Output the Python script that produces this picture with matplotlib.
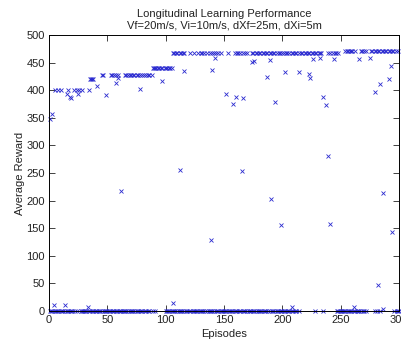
import numpy as np
import matplotlib
matplotlib.use("Agg")
import matplotlib.pyplot as plt

# --- DATA ---
# episodes whose run ended with zero reward
zero_ep = [1, 2, 3, 5, 6, 7, 8, 10, 11, 12, 14, 15, 16, 18, 19, 20, 22, 24,
           27, 28, 29, 30, 31, 32, 34, 35, 37, 38, 39, 40, 41, 43, 44, 45, 47,
           48, 49, 50, 51, 52, 54, 55, 56, 57, 58, 60, 61, 62, 63, 64, 65, 66,
           68, 69, 70, 71, 72, 74, 75, 76, 78, 79, 80, 82, 83, 85, 86, 89, 91,
           100, 101, 102, 103, 105, 106, 107, 108, 110, 111, 112, 113, 114,
           116, 117, 118, 120, 121, 123, 124, 125, 126, 127, 129, 130, 131,
           132, 134, 135, 137, 138, 139, 140, 141, 143, 144, 145, 147, 148,
           149, 150, 151, 152, 154, 155, 156, 157, 159, 160, 161, 163, 164,
           166, 167, 168, 170, 171, 172, 173, 175, 176, 177, 179, 180, 181,
           182, 184, 185, 186, 188, 189, 191, 192, 194, 195, 196, 198, 199,
           200, 201, 202, 204, 205, 206, 208, 209, 211, 212, 214, 228, 235,
           247, 248, 249, 250, 251, 252, 253, 254, 256, 257, 258, 259, 261,
           262, 264, 265, 266, 267, 269, 270, 272, 279, 281, 284, 296, 298,
           299, 300]

# learned-policy plateaus: one reward level per group of episodes
plateau_levels = [400, 421, 427, 440, 467, 471]
plateau_eps = [
    [5, 8, 10, 16, 21, 24, 26, 28, 34],
    [35, 36, 37, 38],
    [45, 46, 53, 54, 56, 57, 59, 65, 66, 68, 69, 70, 72, 73, 75, 76, 78, 80,
     81, 83, 85, 86, 88],
    [89, 90, 91, 92, 93, 94, 96, 97, 99, 100, 101, 103, 104, 105],
    [106, 107, 109, 110, 112, 113, 115, 116, 121, 124, 128, 130, 131, 133,
     135, 138, 140, 141, 143, 145, 147, 153, 159, 161, 162, 164, 166, 168,
     170, 174, 175, 177, 178, 180, 181, 183, 184, 186, 187, 189, 190, 192,
     193, 195, 197, 198, 200, 201, 203, 204, 206, 208, 209, 211, 212, 214,
     216, 217, 219, 220, 222, 223, 225, 226, 228, 229, 231, 232, 233, 239,
     241, 243, 245, 246, 248],
    [254, 255, 256, 258, 259, 260, 262, 267, 268, 270, 272, 276, 277, 279,
     280, 282, 283, 285, 286, 288, 289, 291, 292, 294, 295, 297, 299],
]

# scattered partial-success episodes
mid_ep = [1, 3, 4, 14, 15, 18, 19, 25, 33, 41, 49, 57, 59, 62, 78, 97, 106,
          112, 116, 139, 140, 142, 152, 158, 160, 165, 166, 174, 176, 187,
          189, 190, 194, 199, 202, 208, 214, 223, 224, 226, 232, 235, 237,
          239, 241, 244, 261, 266, 275, 279, 282, 284, 286, 286, 291, 293, 294]
mid_val = [348, 357, 11, 11, 393, 387, 385, 393, 7, 407, 391, 413, 422, 217,
           402, 417, 14, 255, 434, 129, 437, 458, 393, 375, 388, 254, 386,
           451, 452, 424, 455, 203, 378, 156, 433, 7, 433, 430, 422, 456, 458,
           388, 373, 281, 157, 456, 7, 456, 458, 396, 47, 411, 213, 3, 420,
           443, 143]

ep_list = list(zero_ep)
rew_list = [0] * len(zero_ep)
for level, eps in zip(plateau_levels, plateau_eps):
    ep_list += eps
    rew_list += [level] * len(eps)
ep_list += mid_ep
rew_list += mid_val
episodes = np.array(ep_list)
reward = np.array(rew_list)

plt.rcParams['font.family'] = ['Liberation Sans', 'DejaVu Sans']

fig = plt.figure(figsize=(4.02, 3.44), dpi=100)
ax = fig.add_axes([49 / 402, 33 / 344, 350 / 402, 276 / 344])

ax.plot(episodes, reward, 'x', color='#2a2ad0', markersize=3.2,
        markeredgewidth=0.6, clip_on=False)

ax.set_xlim(0, 300)
ax.set_ylim(0, 500)
ax.set_xticks(np.arange(0, 301, 50))
ax.set_yticks(np.arange(0, 501, 50))
ax.tick_params(direction='in', length=4, width=0.6, top=True, right=True,
               labelsize=8, pad=3, colors='#222222')
for s in ax.spines.values():
    s.set_linewidth(0.7)

ax.set_xlabel('Episodes', fontsize=8, labelpad=3, color='#222222')
ax.set_ylabel('Average Reward', fontsize=8, labelpad=1, color='#222222')
ax.set_title('Longitudinal Learning Performance\n'
             'Vf=20m/s, Vi=10m/s, dXf=25m, dXi=5m', fontsize=8,
             linespacing=1.15, pad=5, color='#222222')

fig.savefig('out.png', dpi=100)
